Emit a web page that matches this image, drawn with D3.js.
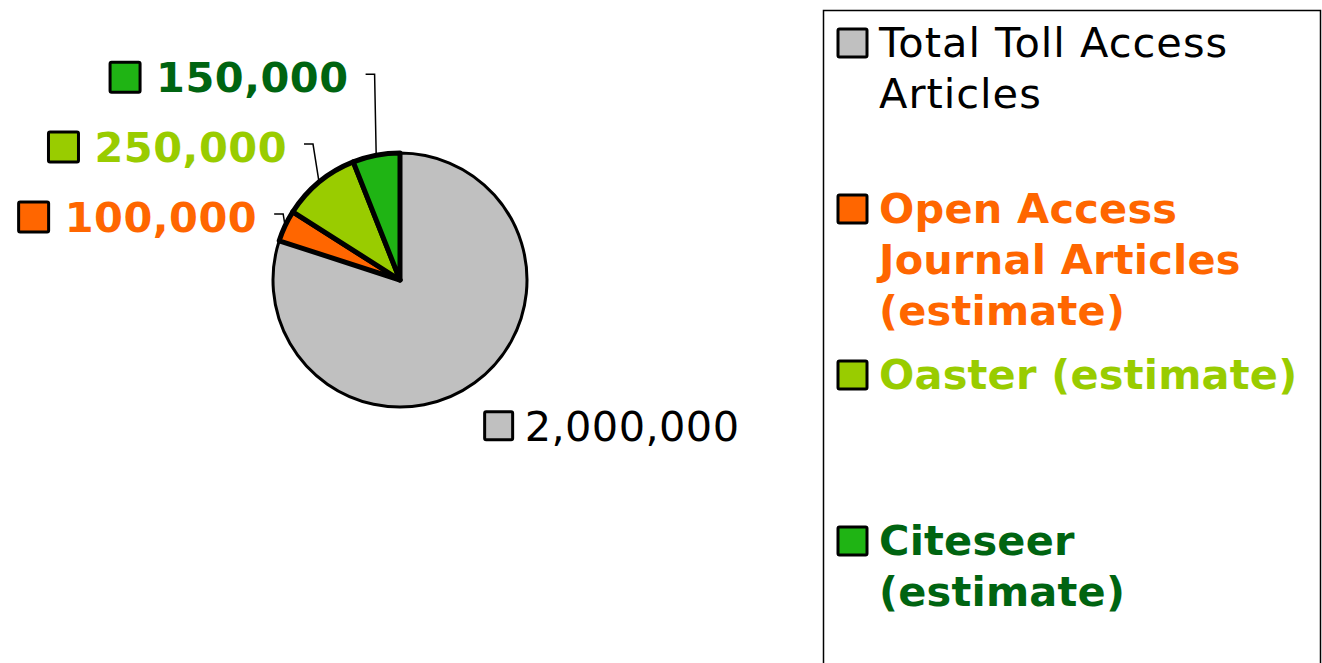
<!DOCTYPE html>
<html>
<head>
<meta charset="utf-8">
<script src="https://cdn.jsdelivr.net/npm/d3@7"></script>
<style>
  body { margin: 0; background: #fff; }
  svg { display: block; font-family: "DejaVu Sans", Verdana, sans-serif; }
</style>
</head>
<body>
<div id="chart"></div>
<script>
// data
var categories = [
  ["Total Toll Access", "Articles"],
  ["Open Access", "Journal Articles", "(estimate)"],
  ["Oaster (estimate)"],
  ["Citeseer", "(estimate)"]
];
var values = [2000000, 100000, 250000, 150000];
var fills = ["#c0c0c0", "#ff6600", "#99cc00", "#1fb414"];
var textColors = ["#000000", "#ff6600", "#99cc00", "#006411"];
var bold = [false, true, true, true];

var width = 1322,
    height = 663;

var cx = 400, cy = 280, radius = 127;
var fontSize = 41.5;

var svg = d3.select("div#chart").append("svg")
    .attr("width", width)
    .attr("height", height);

var pie = d3.pie().sort(null).value(function (d) { return d; });
var arcs = pie(values);

var arc = d3.arc().innerRadius(0).outerRadius(radius);

var g = svg.append("g").attr("transform", `translate(${cx},${cy})`);

g.selectAll("path")
  .data(arcs)
  .enter().append("path")
    .attr("d", arc)
    .attr("fill", function (d, i) { return fills[i]; })
    .attr("stroke", "#000")
    .attr("stroke-width", function (d, i) { return i === 0 ? 3 : 5; })
    .attr("stroke-linejoin", "round");

// data labels: elbow offset relative to pie center, in units of radius
var labelElbow = [null, [-0.92, -0.52], [-0.685, -1.07], [-0.2, -1.62]];

var fmt = d3.format(",");

arcs.forEach(function (d, i) {
  var mid = (d.startAngle + d.endAngle) / 2;
  var px = Math.sin(mid) * radius,
      py = -Math.cos(mid) * radius;
  var lg = g.append("g");
  if (labelElbow[i]) {
    var ex = labelElbow[i][0] * radius,
        ey = labelElbow[i][1] * radius;
    g.append("path")
      .attr("d", `M${px},${py}L${ex},${ey}L${ex - 9},${ey}`)
      .attr("fill", "none")
      .attr("stroke", "#000")
      .attr("stroke-width", 1.5);
    var t = lg.append("text")
      .attr("x", ex - 26)
      .attr("y", ey + 18)
      .attr("text-anchor", "end")
      .attr("font-size", fontSize)
      .attr("font-weight", "bold")
      .attr("letter-spacing", 0.5)
      .attr("fill", textColors[i])
      .text(fmt(values[i]));
    var w = t.node().getComputedTextLength();
    lg.append("rect")
      .attr("x", ex - 26 - w - 46)
      .attr("y", ey + 18 - 30)
      .attr("width", 30)
      .attr("height", 30)
      .attr("fill", fills[i])
      .attr("stroke", "#000")
      .attr("stroke-width", 3)
      .attr("rx", 1.5);
  } else {
    var bx = px + 50, by = py + 54;
    lg.append("text")
      .attr("x", bx)
      .attr("y", by + 4)
      .attr("font-size", fontSize)
      .attr("letter-spacing", 0.4)
      .attr("fill", textColors[i])
      .text(fmt(values[i]));
    lg.append("rect")
      .attr("x", bx - 40)
      .attr("y", by - 25)
      .attr("width", 28)
      .attr("height", 28)
      .attr("fill", fills[i])
      .attr("stroke", "#000")
      .attr("stroke-width", 3)
      .attr("rx", 1.5);
  }
});

// legend
var legend = svg.append("g");
legend.append("rect")
  .attr("x", 823.5)
  .attr("y", 10.5)
  .attr("width", 497)
  .attr("height", 700)
  .attr("fill", "#fff")
  .attr("stroke", "#000")
  .attr("stroke-width", 1.5);

var firstBaseline = 57, slot = 166, lineH = 51;

var items = legend.selectAll("g.item")
  .data(categories)
  .enter().append("g")
    .attr("class", "item")
    .attr("transform", function (d, i) { return `translate(0,${firstBaseline + i * slot})`; });

items.append("rect")
  .attr("x", 838)
  .attr("y", -28)
  .attr("width", 29)
  .attr("height", 28)
  .attr("fill", function (d, i) { return fills[i]; })
  .attr("stroke", "#000")
  .attr("stroke-width", 3)
  .attr("rx", 1.5);

items.append("text")
  .attr("x", 879)
  .attr("font-size", fontSize)
  .attr("font-weight", function (d, i) { return bold[i] ? "bold" : "normal"; })
  .attr("letter-spacing", function (d, i) { return bold[i] ? 0.2 : 1; })
  .attr("fill", function (d, i) { return textColors[i]; })
  .selectAll("tspan")
  .data(function (d) { return d; })
  .enter().append("tspan")
    .attr("x", 879)
    .attr("dy", function (d, j) { return j === 0 ? 0 : lineH; })
    .text(function (d) { return d; });
</script>
</body>
</html>
